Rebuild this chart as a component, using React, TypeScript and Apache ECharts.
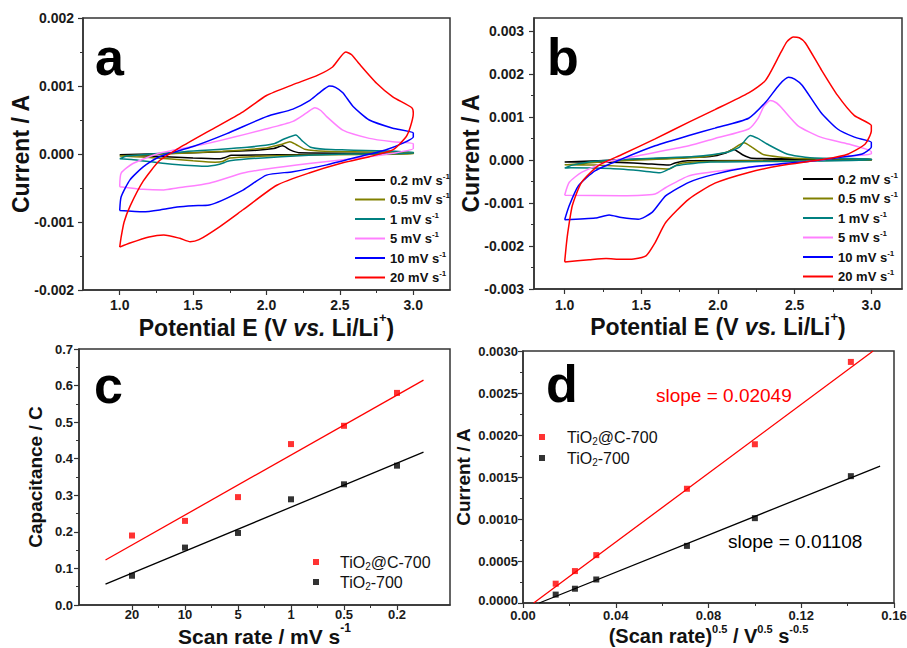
import { useEffect, useRef } from 'react';
import * as echarts from 'echarts';

const FONT = '"Liberation Sans", Arial, Helvetica, sans-serif';
const AXIS_COLOR = '#333333';

const RATE_NAMES = ['0.2 mV s-1', '0.5 mV s-1', '1 mV s-1', '5 mV s-1', '10 mV s-1', '20 mV s-1'];
const RATE_COLORS = ['#000000', '#808000', '#008080', '#ff80ff', '#0000ff', '#ff0000'];

// Panel a: CV loops, [potential / V, current / mA]
const A_02 = [[1.0,-0.01],[1.5,0.02],[1.9,0.05],[2.05,0.08],[2.11,0.12],[2.16,0.06],[2.22,0.02],[3.0,0.01],[3.0,0.0],[2.2,-0.01],[1.76,-0.02],[1.72,-0.05],[1.68,-0.07],[1.5,-0.06],[1.2,-0.03],[1.0,-0.01]];
const A_05 = [[1.0,-0.03],[1.3,0.0],[1.7,0.04],[2.0,0.09],[2.1,0.14],[2.16,0.18],[2.2,0.14],[2.26,0.07],[2.4,0.04],[3.0,0.02],[3.0,0.0],[2.4,-0.01],[2.0,-0.03],[1.75,-0.06],[1.7,-0.11],[1.65,-0.12],[1.5,-0.1],[1.2,-0.05],[1.0,-0.03]];
const A_1 = [[1.0,-0.07],[1.05,-0.03],[1.42,0.03],[1.87,0.1],[2.05,0.15],[2.12,0.22],[2.2,0.28],[2.24,0.2],[2.3,0.1],[2.4,0.07],[2.55,0.06],[3.0,0.03],[3.0,0.01],[2.55,0.0],[2.1,-0.04],[1.75,-0.1],[1.68,-0.15],[1.58,-0.18],[1.31,-0.14],[1.08,-0.08],[1.0,-0.07]];
const A_5 = [[1.0,-0.48],[1.01,-0.28],[1.09,-0.14],[1.27,0.01],[1.61,0.16],[2.0,0.37],[2.18,0.48],[2.27,0.6],[2.33,0.68],[2.37,0.64],[2.41,0.55],[2.52,0.35],[2.7,0.23],[2.86,0.18],[3.0,0.15],[3.0,0.08],[2.86,0.01],[2.63,-0.06],[2.29,-0.14],[2.0,-0.22],[1.84,-0.28],[1.61,-0.43],[1.39,-0.5],[1.3,-0.53],[1.16,-0.52],[1.0,-0.48]];
const A_10 = [[1.0,-0.83],[1.01,-0.63],[1.07,-0.38],[1.16,-0.19],[1.27,-0.04],[1.5,0.11],[1.73,0.3],[2.0,0.55],[2.18,0.66],[2.29,0.78],[2.36,0.9],[2.43,1.0],[2.47,0.98],[2.52,0.9],[2.59,0.7],[2.7,0.5],[2.86,0.38],[3.0,0.31],[3.0,0.25],[2.93,0.16],[2.81,0.06],[2.63,-0.04],[2.41,-0.16],[2.18,-0.26],[2.0,-0.31],[1.84,-0.53],[1.61,-0.75],[1.5,-0.76],[1.39,-0.78],[1.28,-0.82],[1.16,-0.85],[1.0,-0.83]];
const A_20 = [[1.0,-1.37],[1.01,-1.22],[1.03,-1.0],[1.07,-0.77],[1.16,-0.4],[1.27,-0.1],[1.39,0.07],[1.61,0.34],[1.84,0.62],[2.0,0.86],[2.18,1.02],[2.35,1.16],[2.45,1.28],[2.54,1.5],[2.58,1.46],[2.63,1.33],[2.75,1.04],[2.86,0.84],[2.99,0.68],[3.0,0.6],[2.98,0.4],[2.95,0.25],[2.86,0.06],[2.7,-0.04],[2.52,-0.13],[2.29,-0.28],[2.07,-0.46],[1.84,-0.82],[1.68,-1.07],[1.54,-1.26],[1.48,-1.29],[1.41,-1.24],[1.3,-1.19],[1.2,-1.22],[1.07,-1.31],[1.0,-1.37]];

// Panel b: CV loops, [potential / V, current / mA]
const B_02 = [[1.0,-0.05],[1.5,0.02],[1.95,0.08],[2.05,0.16],[2.1,0.25],[2.16,0.12],[2.22,0.04],[3.0,0.02],[3.0,0.0],[1.8,-0.02],[1.72,-0.07],[1.68,-0.12],[1.5,-0.08],[1.2,-0.05],[1.0,-0.05]];
const B_05 = [[1.0,-0.12],[1.3,-0.03],[1.9,0.07],[2.07,0.2],[2.17,0.4],[2.22,0.3],[2.3,0.12],[2.5,0.04],[3.0,0.02],[3.0,0.0],[2.0,-0.03],[1.75,-0.08],[1.68,-0.21],[1.5,-0.17],[1.2,-0.12],[1.0,-0.11]];
const B_1 = [[1.0,-0.19],[1.05,-0.12],[1.2,-0.03],[1.5,0.03],[1.84,0.08],[2.06,0.18],[2.14,0.3],[2.21,0.57],[2.26,0.5],[2.32,0.37],[2.45,0.14],[2.6,0.05],[3.0,0.02],[3.0,0.0],[2.49,-0.03],[1.95,-0.05],[1.73,-0.13],[1.62,-0.3],[1.52,-0.26],[1.3,-0.2],[1.04,-0.18],[1.0,-0.19]];
const B_5 = [[1.0,-0.82],[1.03,-0.52],[1.11,-0.29],[1.27,-0.05],[1.48,0.1],[1.81,0.33],[1.98,0.5],[2.2,0.72],[2.26,0.96],[2.3,1.25],[2.34,1.38],[2.38,1.33],[2.41,1.23],[2.52,0.8],[2.67,0.53],[2.85,0.37],[3.0,0.19],[3.0,0.14],[2.85,0.09],[2.63,-0.02],[2.31,-0.13],[1.98,-0.27],[1.81,-0.37],[1.66,-0.64],[1.59,-0.79],[1.37,-0.83],[1.0,-0.82]];
const B_10 = [[1.0,-1.39],[1.03,-1.06],[1.09,-0.6],[1.2,-0.25],[1.37,0.02],[1.59,0.33],[1.81,0.57],[1.98,0.74],[2.2,0.97],[2.31,1.34],[2.4,1.75],[2.46,1.92],[2.5,1.88],[2.55,1.73],[2.67,1.11],[2.78,0.72],[2.89,0.53],[3.0,0.41],[3.0,0.3],[2.94,0.14],[2.8,0.06],[2.63,-0.02],[2.41,-0.09],[2.2,-0.17],[1.98,-0.33],[1.81,-0.52],[1.66,-0.83],[1.57,-1.22],[1.48,-1.38],[1.37,-1.34],[1.29,-1.28],[1.2,-1.35],[1.0,-1.39]];
const B_20 = [[1.0,-2.37],[1.01,-2.0],[1.02,-1.7],[1.05,-1.06],[1.11,-0.52],[1.22,-0.13],[1.37,0.12],[1.59,0.49],[1.81,0.88],[1.98,1.17],[2.2,1.56],[2.31,1.85],[2.41,2.5],[2.45,2.75],[2.49,2.86],[2.53,2.84],[2.57,2.72],[2.67,2.12],[2.78,1.5],[2.89,1.03],[3.0,0.8],[3.0,0.68],[2.96,0.37],[2.85,0.14],[2.7,0.02],[2.41,-0.13],[2.2,-0.29],[1.98,-0.54],[1.81,-0.91],[1.66,-1.45],[1.59,-1.92],[1.53,-2.23],[1.45,-2.3],[1.37,-2.31],[1.27,-2.29],[1.16,-2.32],[1.0,-2.37]];

// Panel c: capacitance vs scan rate
const C_CATEGORIES = ['20', '10', '5', '1', '0.5', '0.2'];
const C_TIO2C = [0.19, 0.23, 0.295, 0.44, 0.49, 0.58];
const C_TIO2 = [0.08, 0.157, 0.197, 0.289, 0.33, 0.381];
const C_FIT_TIO2C = [[0.5, 0.123], [6.5, 0.615]];
const C_FIT_TIO2 = [[0.5, 0.057], [6.5, 0.418]];

// Panel d: peak current vs (scan rate)^0.5
const D_X = [0.0141, 0.0224, 0.0316, 0.0707, 0.1, 0.1414];
const D_TIO2C = [0.00023, 0.00038, 0.00057, 0.00136, 0.00189, 0.00287];
const D_TIO2 = [0.0001, 0.00017, 0.00028, 0.00068, 0.00101, 0.00151];
const D_FIT_TIO2C = [[0.0046, 0], [0.151, 0.003]];
const D_FIT_TIO2 = [[0.007, 0], [0.154, 0.00163]];

// Tick values
const AB_TICKS_X = [1.0, 1.5, 2.0, 2.5, 3.0];
const AB_MINOR_X = [1.25, 1.75, 2.25, 2.75];
const A_TICKS_Y = [-0.002, -0.001, 0, 0.001, 0.002];
const A_MINOR_Y = [-0.0015, -0.0005, 0.0005, 0.0015];
const B_TICKS_Y = [-0.003, -0.002, -0.001, 0, 0.001, 0.002, 0.003];
const B_MINOR_Y = [-0.0025, -0.0015, -0.0005, 0.0005, 0.0015, 0.0025];
const C_TICKS_X = [1, 2, 3, 4, 5, 6];
const C_MINOR_X = [1.5, 2.5, 3.5, 4.5, 5.5];
const C_TICKS_Y = [0, 0.1, 0.2, 0.3, 0.4, 0.5, 0.6, 0.7];
const C_MINOR_Y = [0.05, 0.15, 0.25, 0.35, 0.45, 0.55, 0.65];
const D_TICKS_X = [0, 0.04, 0.08, 0.12, 0.16];
const D_MINOR_X = [0.02, 0.06, 0.1, 0.14];
const D_TICKS_Y = [0, 0.0005, 0.001, 0.0015, 0.002, 0.0025, 0.003];
const D_MINOR_Y = [0.00025, 0.00075, 0.00125, 0.00175, 0.00225, 0.00275];

type AxisSpec = {
  grid: number; dim: 'x' | 'y'; min: number; max: number; major: number[]; minor: number[];
  fmt: (v: number) => string; margin: number; labelSize: number; name: string; nameGap: number; nameStyle: any;
  labelRich?: any;
};

function buildAxes(s: AxisSpec) {
  const position = s.dim === 'x' ? 'bottom' : 'left';
  const main = {
    type: 'value', gridIndex: s.grid, min: s.min, max: s.max, position,
    axisLine: { show: true, onZero: false, lineStyle: { color: AXIS_COLOR, width: 1.5 } },
    axisTick: { show: true, inside: false, length: 5, customValues: s.major, lineStyle: { color: AXIS_COLOR, width: 1.2 } },
    axisLabel: { show: true, customValues: s.major, formatter: s.fmt, margin: s.margin, fontFamily: FONT, fontSize: s.labelSize, fontWeight: 'bold', color: '#1a1a1a', rich: s.labelRich },
    splitLine: { show: false },
    name: s.name, nameLocation: 'middle', nameGap: s.nameGap, nameRotate: s.dim === 'y' ? 90 : 0,
    nameMoveOverlap: false, nameTextStyle: s.nameStyle,
  };
  const minor = {
    type: 'value', gridIndex: s.grid, min: s.min, max: s.max, position,
    axisLine: { show: false, onZero: false },
    axisTick: { show: true, inside: false, length: 3, customValues: s.minor, lineStyle: { color: AXIS_COLOR, width: 1 } },
    axisLabel: { show: false }, splitLine: { show: false },
  };
  return [main, minor];
}

function nameStyle(size: number, supSize: number, supPad: number) {
  const base = { fontFamily: FONT, fontWeight: 'bold', fontSize: size, color: '#111111' };
  return {
    ...base,
    rich: {
      m: { ...base },
      i: { ...base, fontStyle: 'italic' },
      p: { ...base, fontSize: supSize, padding: [0, 0, supPad, 0] },
    },
  };
}

const rateFormatter = (name: string) => `{n|${name.replace(/-1$/, '')}}{s|-1}`;
const sampleFormatter = (name: string) =>
  name === 'TiO2@C-700' ? '{t|TiO}{b|2}{t|@C-700}' : '{t|TiO}{b|2}{t|-700}';

const rateLegendText = {
  fontFamily: FONT, fontWeight: 'bold', fontSize: 13, color: '#111111',
  rich: {
    n: { fontFamily: FONT, fontWeight: 'bold', fontSize: 13, color: '#111111' },
    s: { fontFamily: FONT, fontWeight: 'bold', fontSize: 8, color: '#111111', padding: [0, 0, 8, 0] },
  },
};
const sampleLegendText = (padLeft: number) => ({
  fontFamily: FONT, fontSize: 16, color: '#111111', padding: [0, 0, 0, padLeft],
  rich: {
    t: { fontFamily: FONT, fontSize: 16, color: '#111111' },
    b: { fontFamily: FONT, fontSize: 10, color: '#111111', padding: [8, 0, 0, 0] },
  },
});

function cvSeries(grid: number, curves: number[][][]) {
  return curves.map((c, k) => ({
    type: 'line', name: RATE_NAMES[k], xAxisIndex: grid * 2, yAxisIndex: grid * 2,
    data: c.map(([e, i]) => [e, i / 1000]),
    showSymbol: false, symbol: 'none', smooth: 0.2,
    lineStyle: { color: RATE_COLORS[k], width: 1.5 }, itemStyle: { color: RATE_COLORS[k] },
    z: 2 + k,
  }));
}

function fitLine(name: string, grid: number, data: number[][], color: string) {
  return {
    type: 'line', name, xAxisIndex: grid * 2, yAxisIndex: grid * 2, data,
    symbol: 'none', showSymbol: false, lineStyle: { color, width: 1.3 }, itemStyle: { color }, silent: true, z: 2,
  };
}

function scatter(name: string, grid: number, data: number[][], color: string) {
  return {
    type: 'scatter', name, xAxisIndex: grid * 2, yAxisIndex: grid * 2, data,
    symbol: 'rect', symbolSize: 6, itemStyle: { color }, z: 3,
  };
}

function letter(text: string, left: number, top: number) {
  return { type: 'text', left, top, style: { text, fill: '#000000', fontFamily: FONT, fontWeight: 'bold', fontSize: 52 } };
}

export default function App() {
  const ref = useRef<HTMLDivElement>(null);
  useEffect(() => {
    document.body.style.margin = '0';
    if (!ref.current) return;
    const chart = echarts.init(ref.current, undefined, { renderer: 'svg' });
    const potName = '{m|Potential E (V }{i|vs.}{m| Li/Li}{p|+}{m|)}';
    const labelBold = { fontFamily: FONT, fontSize: 13, fontWeight: 'bold', color: '#1a1a1a' };
    const xAxes = [
      ...buildAxes({ grid: 0, dim: 'x', min: 0.75, max: 3.25, major: AB_TICKS_X, minor: AB_MINOR_X, fmt: (v) => v.toFixed(1), margin: 8, labelSize: 14, name: potName, nameGap: 21, nameStyle: nameStyle(23, 13, 20) }),
      ...buildAxes({ grid: 1, dim: 'x', min: 0.8, max: 3.2, major: AB_TICKS_X, minor: AB_MINOR_X, fmt: (v) => v.toFixed(1), margin: 9, labelSize: 14, name: potName, nameGap: 21, nameStyle: nameStyle(23, 13, 20) }),
      ...buildAxes({ grid: 2, dim: 'x', min: 0, max: 7, major: C_TICKS_X, minor: C_MINOR_X, fmt: (v) => C_CATEGORIES[Math.round(v) - 1] ?? '', margin: 3, labelSize: 13, name: '{m|Scan rate / mV s}{p|-1}', nameGap: 17, nameStyle: nameStyle(21, 12, 16) }),
      ...buildAxes({ grid: 3, dim: 'x', min: 0, max: 0.16, major: D_TICKS_X, minor: D_MINOR_X, fmt: (v) => v.toFixed(2), margin: 6, labelSize: 13, name: '{m|(Scan rate)}{p|0.5}{m| / V}{p|0.5}{m| s}{p|-0.5}', nameGap: 20.5, nameStyle: nameStyle(20, 11, 14) }),
    ];
    const yAxes = [
      ...buildAxes({ grid: 0, dim: 'y', min: -0.002, max: 0.002, major: A_TICKS_Y, minor: A_MINOR_Y, fmt: (v) => v.toFixed(3), margin: 9, labelSize: 14, name: 'Current / A', nameGap: 51, nameStyle: nameStyle(23, 13, 20) }),
      ...buildAxes({ grid: 1, dim: 'y', min: -0.003, max: 0.0033, major: B_TICKS_Y, minor: B_MINOR_Y, fmt: (v) => v.toFixed(3), margin: 10, labelSize: 14, name: 'Current / A', nameGap: 52, nameStyle: nameStyle(23, 13, 20) }),
      ...buildAxes({ grid: 2, dim: 'y', min: 0, max: 0.7, major: C_TICKS_Y, minor: C_MINOR_Y, fmt: (v) => v.toFixed(1), margin: 6, labelSize: 13, name: 'Capacitance / C', nameGap: 34, nameStyle: nameStyle(19, 12, 16) }),
      ...buildAxes({ grid: 3, dim: 'y', min: 0, max: 0.003, major: D_TICKS_Y, minor: D_MINOR_Y, fmt: (v) => (v === 0 ? '{z|0.0000}' : v.toFixed(4)), margin: 5, labelSize: 13, name: 'Current / A', nameGap: 50, nameStyle: nameStyle(19, 12, 16), labelRich: { z: { ...labelBold, padding: [0, 0, 6, 0] } } }),
    ];
    const gridBase = { show: true, borderColor: AXIS_COLOR, borderWidth: 1.5, backgroundColor: 'transparent', containLabel: false, outerBoundsMode: 'none' };
    const option: any = {
      animation: false,
      backgroundColor: '#ffffff',
      grid: [
        { ...gridBase, left: 83, top: 18, width: 367, height: 272 },
        { ...gridBase, left: 534, top: 18, width: 368, height: 271 },
        { ...gridBase, left: 79, top: 349, width: 371, height: 256 },
        { ...gridBase, left: 523, top: 351, width: 371, height: 252 },
      ],
      xAxis: xAxes,
      yAxis: yAxes,
      legend: [
        { data: RATE_NAMES, left: 355, top: 172, orient: 'vertical', padding: 0, icon: 'rect', itemWidth: 30, itemHeight: 2, itemGap: 5, formatter: rateFormatter, textStyle: rateLegendText, selectedMode: false },
        { data: RATE_NAMES, left: 803, top: 171, orient: 'vertical', padding: 0, icon: 'rect', itemWidth: 30, itemHeight: 2, itemGap: 5, formatter: rateFormatter, textStyle: rateLegendText, selectedMode: false },
        { data: ['TiO2@C-700', 'TiO2-700'], left: 313, top: 554, orient: 'vertical', padding: 0, icon: 'rect', itemWidth: 6, itemHeight: 6, itemGap: 3, formatter: sampleFormatter, textStyle: sampleLegendText(16), selectedMode: false },
        { data: ['TiO2@C-700', 'TiO2-700'], left: 539, top: 429, orient: 'vertical', padding: 0, icon: 'rect', itemWidth: 6, itemHeight: 6, itemGap: 4, formatter: sampleFormatter, textStyle: sampleLegendText(17), selectedMode: false },
      ],
      graphic: [
        letter('a', 95, 31),
        letter('b', 547, 31),
        letter('c', 94, 359),
        letter('d', 546, 358),
        { type: 'text', left: 656, top: 386, style: { text: 'slope = 0.02049', fill: '#ff0000', fontFamily: FONT, fontSize: 19 } },
        { type: 'text', left: 728, top: 532, style: { text: 'slope = 0.01108', fill: '#000000', fontFamily: FONT, fontSize: 19 } },
      ],
      series: [
        ...cvSeries(0, [A_02, A_05, A_1, A_5, A_10, A_20]),
        ...cvSeries(1, [B_02, B_05, B_1, B_5, B_10, B_20]),
        fitLine('fit-c-TiO2@C-700', 2, C_FIT_TIO2C, '#ff0000'),
        fitLine('fit-c-TiO2-700', 2, C_FIT_TIO2, '#000000'),
        scatter('TiO2@C-700', 2, C_TIO2C.map((v, i) => [i + 1, v]), '#ff0000'),
        scatter('TiO2-700', 2, C_TIO2.map((v, i) => [i + 1, v]), '#000000'),
        fitLine('fit-d-TiO2@C-700', 3, D_FIT_TIO2C, '#ff0000'),
        fitLine('fit-d-TiO2-700', 3, D_FIT_TIO2, '#000000'),
        scatter('TiO2@C-700', 3, D_X.map((x, i) => [x, D_TIO2C[i]]), '#ff0000'),
        scatter('TiO2-700', 3, D_X.map((x, i) => [x, D_TIO2[i]]), '#000000'),
      ],
    };
    chart.setOption(option);
    return () => chart.dispose();
  }, []);
  return <div ref={ref} style={{ width: 907, height: 648, background: '#ffffff' }} />;
}
